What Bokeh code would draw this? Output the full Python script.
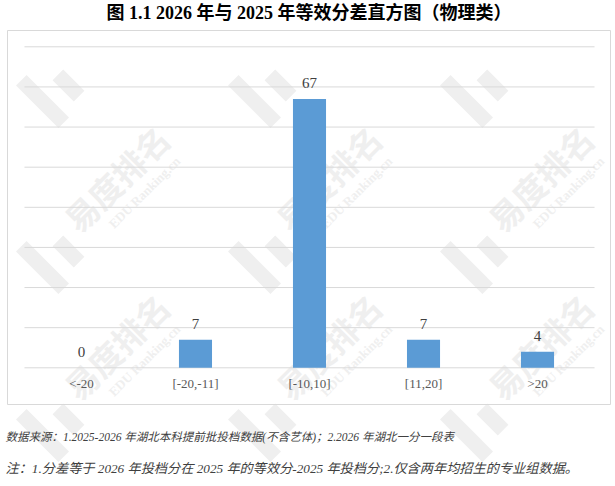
import math

from bokeh.core.properties import value
from bokeh.embed import file_html
from bokeh.models import ColumnDataSource, FactorRange, Label, Range1d
from bokeh.plotting import figure
from bokeh.resources import INLINE

# ---- data -------------------------------------------------------------
categories = ["<-20", "[-20,-11]", "[-10,10]", "[11,20]", ">20"]
counts = [0, 7, 67, 7, 4]
grid_values = [0, 10, 20, 30, 40, 50, 60, 70, 80]

title_text = "图 1.1 2026 年与 2025 年等效分差直方图（物理类）"
source_note = "数据来源：1.2025-2026 年湖北本科提前批投档数据(不含艺体)；2.2026 年湖北一分一段表"
remark_note = "注：1.分差等于 2026 年投档分在 2025 年的等效分-2025 年投档分;2.仅含两年均招生的专业组数据。"

# ---- styling ----------------------------------------------------------
SERIF = "'Liberation Serif', 'Noto Sans CJK SC'"
BAR_COLOR = "#5b9bd5"
RULE_COLOR = "#d9d9d9"
MARK_COLOR = "#efefef"

W, H = 615, 486
LEFT_BORDER = 3                 # keeps the category band centred
X_PAD = 0.184                   # padding either side of the five categories
Y_LO, Y_HI = -29.58, 91.54      # whole canvas height in value units

p = figure(
    width=W, height=H,
    x_range=FactorRange(factors=categories, range_padding=X_PAD,
                        range_padding_units="absolute"),
    y_range=Range1d(Y_LO, Y_HI),
    x_axis_location=None, y_axis_location=None,
    toolbar_location=None, output_backend="svg",
    min_border_left=LEFT_BORDER, min_border_right=0,
    min_border_top=0, min_border_bottom=0,
)
p.grid.visible = False
p.outline_line_color = None
p.background_fill_color = "white"
p.border_fill_color = "white"


def to_screen(px, py):
    """canvas pixel (top-left origin) -> Label screen units"""
    return px - LEFT_BORDER, H - py


def to_data(px, py):
    """canvas pixel -> synthetic data coordinates"""
    span_x = len(categories) + 2 * X_PAD
    x = (px - LEFT_BORDER) / (W - LEFT_BORDER) * span_x - X_PAD
    y = Y_HI - py / H * (Y_HI - Y_LO)
    return x, y


# ---- chart box ----------------------------------------------------------
bx0, by0 = to_data(7, 30)
bx1, by1 = to_data(610, 404)
p.quad(left=[bx0], right=[bx1], top=[by0], bottom=[by1],
       fill_color=None, line_color=RULE_COLOR, line_width=1)

# ---- watermark (brand tiles) ------------------------------------------
text_cols = [116, 328, 540]
text_rows = [178, 346]
for cx in text_cols:
    for cy in text_rows:
        fx, fy = to_screen(cx, cy)
        p.add_layout(Label(
            x=fx, y=fy, x_units="screen", y_units="screen",
            text="易度排名", angle=45, angle_units="deg",
            text_align="center", text_baseline="middle",
            text_font="Noto Sans CJK SC", text_font_style="bold",
            text_font_size="33px", text_color=MARK_COLOR, level="underlay"))
        ex, ey = to_screen(cx + 28, cy + 14)
        p.add_layout(Label(
            x=ex, y=ey, x_units="screen", y_units="screen",
            text="EDU Ranking.cn", angle=45, angle_units="deg",
            text_align="center", text_baseline="middle",
            text_font="Liberation Serif", text_font_style="bold",
            text_font_size="13px", text_color=MARK_COLOR, level="underlay"))

logo_x, logo_y, logo_len, logo_thk = [], [], [], []
for bx in [52, 264, 476]:
    for by in [97, 263, 431]:
        for dx, dy, length in [(-10, 4, 60), (16, -12, 30)]:
            x, y = to_data(bx + dx, by + dy)
            logo_x.append(x)
            logo_y.append(y)
            logo_len.append(length)
            logo_thk.append(15)
p.rect(x=logo_x, y=logo_y, width=logo_thk, height=logo_len,
       width_units="screen", height_units="screen", angle=math.pi / 4,
       fill_color=MARK_COLOR, line_color=None, level="underlay")

# ---- horizontal rules --------------------------------------------------
n = len(grid_values)
p.segment(x0=[(categories[0], -0.5)] * n, x1=[(categories[-1], 0.5)] * n,
          y0=grid_values, y1=grid_values, line_color=RULE_COLOR, line_width=1)

# ---- bars ------------------------------------------------------------
src = ColumnDataSource(dict(cat=categories, count=counts,
                            label=[str(c) for c in counts]))
p.vbar(x="cat", top="count", width=0.29, source=src,
       fill_color=BAR_COLOR, line_color=None)

p.text(x="cat", y="count", text="label", source=src,
       text_align="center", text_baseline="bottom", y_offset=-11,
       text_font=value("Liberation Serif"), text_font_size="15px",
       text_color="#404040")

# category labels under the baseline
p.text(x=categories, y=[0] * len(categories), text=categories,
       text_align="center", text_baseline="middle", y_offset=16,
       text_font=value("Liberation Serif"), text_font_size="13px",
       text_color="#595959")

# ---- title and notes ----------------------------------------------------
tx, ty = to_screen(W / 2 + 1, 12)
p.add_layout(Label(x=tx, y=ty, x_units="screen", y_units="screen",
                   text=title_text, text_align="center", text_baseline="middle",
                   text_font=SERIF, text_font_style="bold",
                   text_font_size="18px", text_color="#000000"))

for note, py, size in [(source_note, 436, "11.5px"), (remark_note, 468, "13.2px")]:
    nx, ny = to_screen(5, py)
    p.add_layout(Label(x=nx, y=ny, x_units="screen", y_units="screen",
                       text=note, text_align="left", text_baseline="middle",
                       text_font=SERIF, text_font_style="italic",
                       text_font_size=size, text_color="#404040"))

open("out.html", "w").write(file_html(p, INLINE))
